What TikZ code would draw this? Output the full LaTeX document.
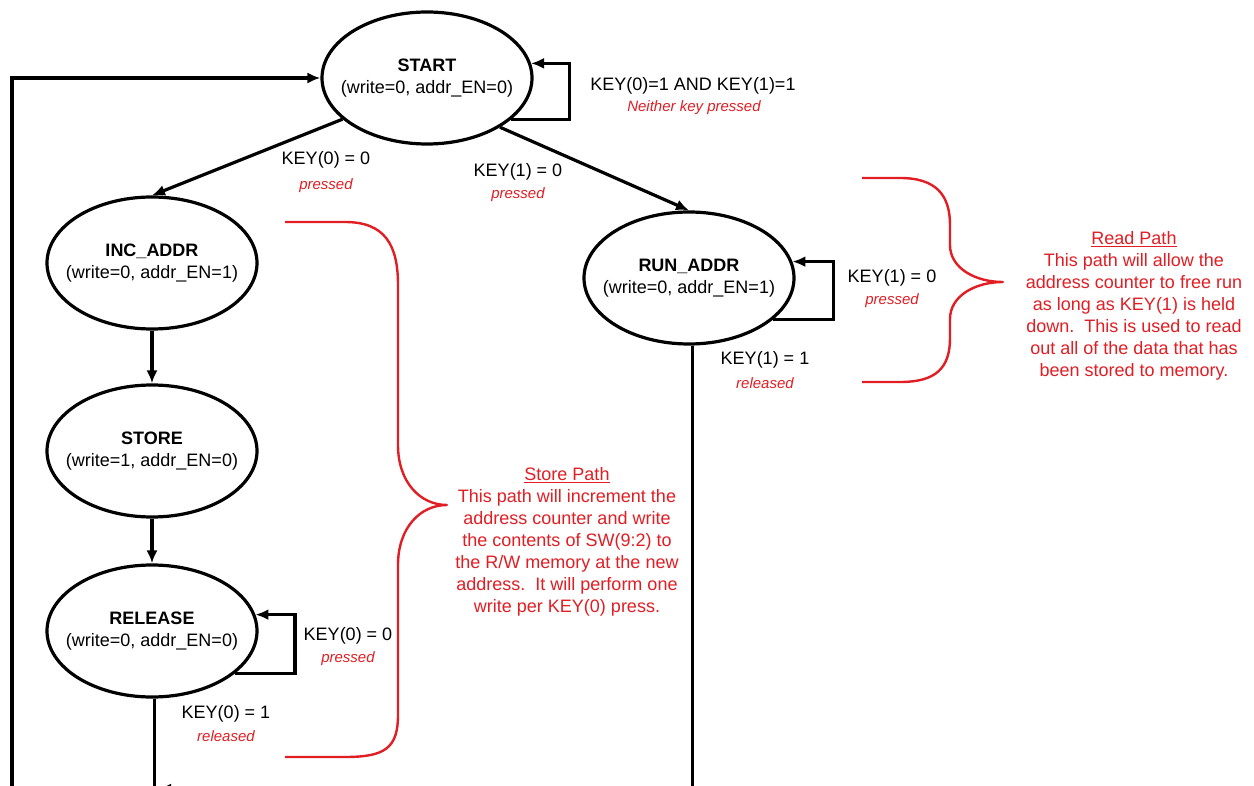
\documentclass[tikz,border=0pt]{standalone}
\usepackage{fontspec}
\setmainfont{Liberation Sans}
\usetikzlibrary{shapes.geometric,arrows.meta}
\definecolor{annot}{RGB}{224,30,36}
\begin{document}
\begin{tikzpicture}[x=1pt,y=-1pt,
  state/.style={ellipse,draw,line width=3.2pt,minimum width=210pt,minimum height=132pt,inner sep=0pt},
  statetext/.style={align=center,inner sep=0pt,font=\fontsize{18}{22}\selectfont},
  conn/.style={line width=3.2pt,-{Latex[length=13pt,width=11pt]}},
  cond/.style={font=\fontsize{18}{22}\selectfont,inner sep=0pt},
  sub/.style={font=\fontsize{15}{18}\selectfont\itshape,text=annot,inner sep=0pt},
  brace/.style={draw=annot,line width=2.4pt,line join=round},
  note/.style={text=annot,align=center,inner sep=0pt,font=\fontsize{18}{22}\selectfont}]
\useasboundingbox (0,0) rectangle (1254,786);
\clip (0,0) rectangle (1254,786);
\fill[white] (0,0) rectangle (1254,786);

% states
\node[state,label={[statetext]center:{\textbf{START}\\(write=0, addr\_EN=0)}}] (START) at (427,78) {};
\node[state,label={[statetext]center:{\textbf{INC\_ADDR}\\(write=0, addr\_EN=1)}}] (INC) at (152,263) {};
\node[state,label={[statetext]center:{\textbf{STORE}\\(write=1, addr\_EN=0)}}] (STORE) at (152,451) {};
\node[state,label={[statetext]center:{\textbf{RELEASE}\\(write=0, addr\_EN=0)}}] (REL) at (152,631) {};
\node[state,label={[statetext]center:{\textbf{RUN\_ADDR}\\(write=0, addr\_EN=1)}}] (RUN) at (689,278) {};

\coordinate (botL) at (12,830);
\coordinate (join) at (158,789);

% connectors
\draw[conn] (START.206) -- (INC.north);
\draw[conn] (START.-34) -- (RUN.north);
\draw[conn] (INC.south) -- (STORE.north);
\draw[conn] (STORE.south) -- (REL.north);
\draw[conn] (START.-26) -- ++(58,0) |- (START.8);
\draw[conn] (RUN.-26) -- ++(60,0) |- (RUN.9);
\draw[conn] (REL.-27) -- ++(60,0) |- (REL.9);
\draw[conn] (REL.-88) |- (botL) |- (START.west);
\draw[conn] (RUN.-87) |- (join);

% condition labels
\node[cond] (l1) at (693,86) {KEY(0)=1 AND KEY(1)=1};
\node[sub] (l1s) at (694,108) {Neither key pressed};
\node[cond] (l2) at (326,160) {KEY(0) = 0};
\node[sub] (l2s) at (326,186) {pressed};
\node[cond] (l3) at (518,172) {KEY(1) = 0};
\node[sub] (l3s) at (518,195) {pressed};
\node[cond] (l4) at (892,278) {KEY(1) = 0};
\node[sub] (l4s) at (892,301) {pressed};
\node[cond] (l5) at (765,360) {KEY(1) = 1};
\node[sub] (l5s) at (765,383) {released};
\node[cond] (l6) at (348,636) {KEY(0) = 0};
\node[sub] (l6s) at (348,659) {pressed};
\node[cond] (l7) at (226,714) {KEY(0) = 1};
\node[sub] (l7s) at (226,736) {released};

% braces
\draw[brace] (862,178) -- (900,178) .. controls (936,178) and (950,195) .. (950,225)
  -- (950,245) .. controls (950,268) and (975,282) .. (1003,282)
  .. controls (975,282) and (950,296) .. (950,319) -- (950,338)
  .. controls (950,368) and (936,382) .. (900,382) -- (862,382);
\draw[brace] (285,222) -- (345,222) .. controls (385,222) and (398,245) .. (398,285)
  -- (398,445) .. controls (398,482) and (420,505) .. (447,505)
  .. controls (420,505) and (398,528) .. (398,565) -- (398,715)
  .. controls (398,748) and (385,757) .. (345,757) -- (285,757);

% notes
\node[note] (readtxt) at (1134,306) {\underline{Read Path}\\This path will allow the\\address counter to free run\\as long as KEY(1) is held\\down.\ \ This is used to read\\out all of the data that has\\been stored to memory.};
\node[note] (storetxt) at (567,542) {\underline{Store Path}\\This path will increment the\\address counter and write\\the contents of SW(9:2) to\\the R/W memory at the new\\address.\ \ It will perform one\\write per KEY(0) press.};
\end{tikzpicture}
\end{document}
